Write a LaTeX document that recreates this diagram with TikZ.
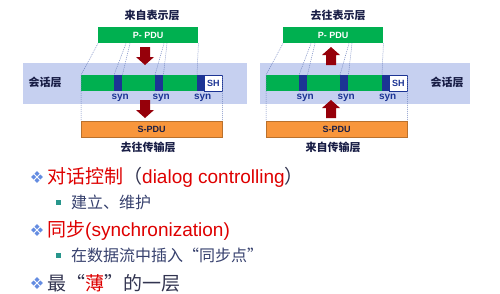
\documentclass[tikz,border=0pt]{standalone}
\usepackage{fontspec}
\setmainfont{Liberation Sans}
\newfontfamily\cjk{Noto Sans CJK SC}
\usetikzlibrary{calc,positioning}

\definecolor{pdugreen}{RGB}{0,176,80}
\definecolor{synblue}{RGB}{28,52,148}
\definecolor{bandblue}{RGB}{198,208,240}
\definecolor{pduorange}{RGB}{248,150,60}
\definecolor{arrowred}{RGB}{150,0,10}
\definecolor{labelnavy}{RGB}{25,30,70}
\definecolor{dotgray}{RGB}{110,130,190}
\definecolor{titlered}{RGB}{222,0,0}
\definecolor{bulletblue}{RGB}{100,140,225}
\definecolor{bulletteal}{RGB}{40,150,140}
\definecolor{subslate}{RGB}{55,65,110}
\definecolor{darktext}{RGB}{50,52,80}

\tikzset{
  pdubox/.style={anchor=north west, inner sep=0pt, minimum height=16pt},
  greenbox/.style={pdubox, fill=pdugreen},
  synbox/.style={pdubox, fill=synblue},
  shbox/.style={pdubox, fill=white, draw=synblue, line width=0.5pt, text=synblue, font=\bfseries\fontsize{9}{10}\selectfont},
  orangebox/.style={pdubox, fill=pduorange, draw=pduorange!75!black, line width=0.4pt, text=labelnavy, font=\bfseries\fontsize{9}{10}\selectfont},
  band/.style={anchor=north west, inner sep=0pt, fill=bandblue, minimum height=41pt},
  syntext/.style={text=synblue, font=\bfseries\fontsize{10}{11}\selectfont, inner sep=1pt},
  layertext/.style={text=labelnavy, font=\cjk\bfseries\fontsize{11}{12}\selectfont},
  dotline/.style={draw=dotgray, line width=0.5pt, dash pattern=on 1pt off 1pt},
  maintext/.style={anchor=west, inner sep=0pt, text=titlered, font=\fontsize{19}{21}\selectfont},
  subtext/.style={anchor=west, inner sep=0pt, text=subslate, font=\cjk\fontsize{16}{18}\selectfont},
  bulletsq/.style={fill=bulletteal, inner sep=0pt, minimum size=5pt},
  pics/blockarrow/.style={code={
    \fill[arrowred] (-5,0) -- (5,0) -- (5,10) -- (9,10) -- (0,18) -- (-9,10) -- (-5,10) -- cycle;}},
  pics/fourdiamond/.style={code={
    \foreach \dx/\dy in {0/-3.4, 0/3.4, -3.4/0, 3.4/0}
      \fill[bulletblue] (\dx,\dy) +(0,-2.5) -- +(2.5,0) -- +(0,2.5) -- +(-2.5,0) -- cycle;}}
}

\begin{document}
\begin{tikzpicture}[x=1pt, y=-1pt]
\useasboundingbox (0,0) rectangle (500,293);

% session layer bands
\node[band, minimum width=224pt] (bandL) at (23,63) {};
\node[band, minimum width=210pt] (bandR) at (260,63) {};
\node[layertext] (sessL) at (45,82) {会话层};
\node[layertext] (sessR) at (447,82) {会话层};

% layer labels
\node[layertext] (fromP) at (152,15) {来自表示层};
\node[layertext] (toT) at (148,147) {去往传输层};
\node[layertext] (toP) at (338,15) {去往表示层};
\node[layertext] (fromT) at (333,147) {来自传输层};

\foreach \n/\x in {L/81, R/266} {
  \node[greenbox, minimum width=116pt] (bar\n) at (\x,75) {};
  \node[synbox, minimum width=8pt] (segA\n) at ({\x+33},75) {};
  \node[synbox, minimum width=8pt] (segB\n) at ({\x+74},75) {};
  \node[synbox, minimum width=7pt] (segC\n) at ({\x+116},75) {};
  \node[shbox, minimum width=18pt] (sh\n) at ({\x+123},75) {SH};
  \node[greenbox, minimum width=100pt, text=white, font=\bfseries\fontsize{9}{10}\selectfont] (ppdu\n) at ({\x+17},27) {P- PDU};
  \node[orangebox, minimum width=141pt] (spdu\n) at (\x,121) {S-PDU};
  \foreach \s in {segA,segB,segC}
    \node[syntext, below=1.5pt of \s\n, xshift=2pt] {syn};
  % dotted mapping lines
  \draw[dotline] (ppdu\n.south west) -- (bar\n.north west) -- (spdu\n.north west);
  \draw[dotline] ($(ppdu\n.south west)+(28,0)$) -- (segA\n.north west);
  \draw[dotline] ($(ppdu\n.south west)+(32,0)$) -- (segA\n.north east);
  \draw[dotline] ($(ppdu\n.south west)+(66,0)$) -- (segB\n.north west);
  \draw[dotline] ($(ppdu\n.south west)+(69,0)$) -- (segB\n.north east);
  \draw[dotline] (ppdu\n.south east) -- (segC\n.north west);
  \draw[dotline] (sh\n.north east) -- (spdu\n.north east);
}

% arrows
\pic at (145,47) {blockarrow};
\pic at (145,100) {blockarrow};
\pic[rotate=180] at (331,65) {blockarrow};
\pic[rotate=180] at (331,118) {blockarrow};

% bullet list
\foreach \y in {177,230,283} \pic at (37,\y) {fourdiamond};
\node[bulletsq] (sq1) at (58,202) {};
\node[bulletsq] (sq2) at (58,255) {};
\node[maintext] (item1) at (47,177) {{\cjk 对话控制\textcolor{darktext}{（}}dialog controlling{\cjk\textcolor{darktext}{）}}};
\node[subtext] (item1a) at (71,202) {建立、维护};
\node[maintext] (item2) at (47,230) {{\cjk 同步}(synchronization)};
\node[subtext] (item2a) at (71,255) {在数据流中插入“同步点”};
\node[maintext, text=darktext, font=\cjk\fontsize{19}{21}\selectfont] (item3) at (47,283) {最“\textcolor{titlered}{薄}”的一层};
\end{tikzpicture}
\end{document}
